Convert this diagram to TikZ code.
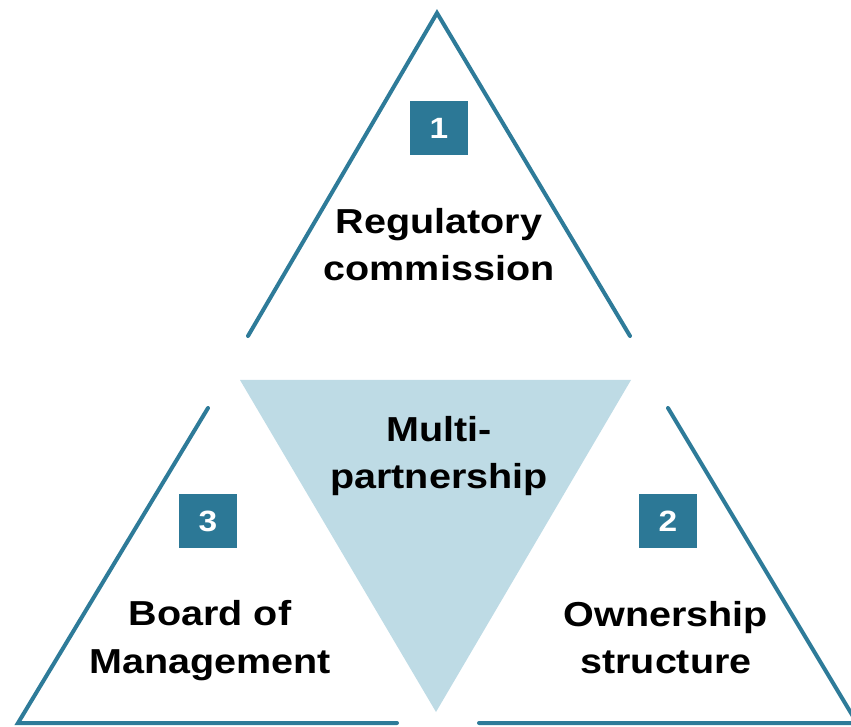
\documentclass[tikz,border=0pt]{standalone}
\usepackage{fontspec}
\usepackage{tkz-euclide}
\setmainfont{Liberation Sans}[FakeStretch=1.14]
\definecolor{edgeblue}{HTML}{2E7B99}
\definecolor{boxblue}{HTML}{2C7896}
\definecolor{coreblue}{HTML}{BEDBE5}
\tikzset{side/.style={color=edgeblue, line width=3pt},
  numbox/.style={fill=boxblue, text=white, minimum width=43.5pt, minimum height=40pt, inner sep=0pt, font=\bfseries\fontsize{22}{22}\selectfont},
  areatext/.style={align=center, anchor=base, inner sep=0pt, font=\bfseries\fontsize{26}{35.6}\selectfont}}

\begin{document}
\begin{tikzpicture}[x=0.75pt, y=0.75pt]
\useasboundingbox (0,0) rectangle (851,726);
\tkzDefPoints{437/713/A, 248/390/B, 630/390/C, 240/346/D, 631/346/E, 436/14/F, 208/318/G, 18/3/H, 397/3/I, 668/318/J, 857/3/K, 479/3/L}
% middle part
\tkzFillPolygon[color=coreblue](D,E,F)
% the three outer triangles
\tkzDrawPolySeg[side](B,A,C)
\tkzDrawPolySeg[side](I,H,G)
\tkzDrawPolySeg[side](L,K,J)
\node[numbox] (one) at (439,598) {1};
\node[numbox] (two) at (668,205) {2};
\node[numbox] (three) at (208,205) {3};
\node[areatext] (regul) at (439,445) {Regulatory\\commission};
\node[areatext] (multi) at (439,237) {Multi-\\partnership};
\node[areatext] (board) at (210,53) {Board of\\Management};
\node[areatext] (owner) at (666,52) {Ownership\\structure};
\end{tikzpicture}
\end{document}
